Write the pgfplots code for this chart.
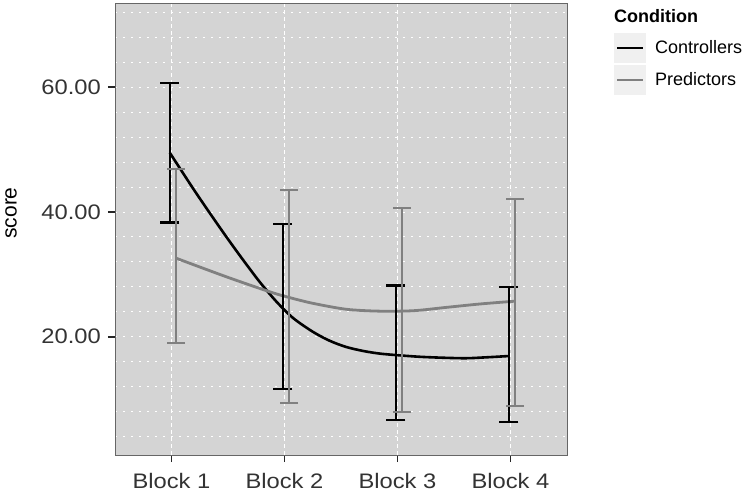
\documentclass[border=0pt]{standalone}
\usepackage{fontspec}
\setmainfont{Liberation Sans}
\newfontfamily\tickfont{Liberation Sans}[FakeStretch=1.13]
\usepackage{pgfplots}
\pgfplotsset{compat=1.18}
\usepackage{pgfplotstable}
\definecolor{panelbg}{HTML}{D4D4D4}
\definecolor{framegray}{HTML}{666666}
\definecolor{predgray}{HTML}{808080}
\definecolor{keybg}{HTML}{F0F0F0}
\definecolor{ticktext}{HTML}{333333}

\pgfplotstableread{
x y
0.985 49.5
1.19 43.8
1.34 39.8
1.49 35.9
1.63 32.4
1.78 28.8
1.93 25.6
2.076 23.0
2.25 20.8
2.40 19.35
2.547 18.35
2.70 17.7
2.84 17.3
2.985 17.06
3.23 16.75
3.58 16.55
3.79 16.7
3.985 16.9
}\ctrlcurve
\pgfplotstableread{
x y
1.04 32.6
1.487 29.6
1.87 27.2
2.04 26.3
2.25 25.36
2.547 24.4
2.84 24.1
3.14 24.17
3.43 24.7
3.73 25.25
4.04 25.7
}\predcurve
\pgfplotstableread{
x y ep em
0.985 49.5 11.2 11.2
1.985 25.0 13.1 13.4
2.985 17.06 11.14 10.46
3.985 16.9 11.1 10.6
}\ctrlerr
\pgfplotstableread{
x y ep em
1.04 32.6 14.3 13.6
2.04 26.3 17.3 16.9
3.04 24.15 16.45 16.25
4.04 25.7 16.4 16.8
}\prederr

\begin{document}
\begin{tikzpicture}
\useasboundingbox (0,0) rectangle (750bp,494bp);
\begin{axis}[
  at={(115bp,39bp)}, anchor=south west,
  scale only axis, width=452bp, height=451bp,
  xmin=0.5, xmax=4.5, ymin=1.03, ymax=73.36,
  axis background/.style={fill=panelbg},
  axis line style={draw=framegray, line width=1bp},
  xtick={1,2,3,4},
  xticklabels={Block 1,Block 2,Block 3,Block 4},
  ytick={20,40,60},
  yticklabels={20.00,40.00,60.00},
  minor ytick={4,8,...,72},
  xmajorgrids, ymajorgrids, yminorgrids,
  x grid style={white, line width=0.9bp, dash pattern=on 4bp off 3bp},
  y grid style={white, line width=0.9bp, dash pattern=on 1.5bp off 6.5bp},
  tick align=outside, tick pos=left,
  major tick length=7bp, minor tick length=0pt,
  major tick style={draw=black!85, line width=1.6bp},
  /pgf/number format/assume math mode=true,
  ticklabel style={font=\tickfont\fontsize{21bp}{25bp}\selectfont, text=ticktext},
  yticklabel style={inner sep=0pt, anchor=east, xshift=-7bp},
  xticklabel style={inner sep=0pt, anchor=north, yshift=-11bp},
  legend cell align=left,
  legend style={at={(1.104,0.9357)}, anchor=north west, draw=none, fill=none,
    inner sep=0pt, row sep=2bp, column sep=9bp,
    font=\fontsize{18bp}{21bp}\selectfont,
    nodes={inner sep=0pt, anchor=west}},
  legend image code/.code={
    \fill[fill=keybg, draw=none] (0bp,-15bp) rectangle (32bp,15bp);
    \draw[line width=1.6bp] (3bp,0bp) -- (29bp,0bp);
  },
  clip=false,
]
\addplot[black, line width=2.6bp, smooth] table[x=x,y=y] {\ctrlcurve};
\addlegendentry{Controllers}
\addplot[predgray, line width=2.8bp, smooth] table[x=x,y=y] {\predcurve};
\addlegendentry{Predictors}
\addplot[forget plot, draw=none, mark=none,
  error bars/.cd, y dir=both, y explicit, error mark=|,
  error bar style={draw=black, line width=1.4bp},
  error mark options={draw=black, line width=2.4bp, mark size=9.5bp}]
  table[x=x, y=y, y error plus=ep, y error minus=em] {\ctrlerr};
\addplot[forget plot, draw=none, mark=none,
  error bars/.cd, y dir=both, y explicit, error mark=|,
  error bar style={draw=predgray, line width=1.3bp},
  error mark options={draw=predgray, line width=2.0bp, mark size=9bp}]
  table[x=x, y=y, y error plus=ep, y error minus=em] {\prederr};
\end{axis}
\node[rotate=90, anchor=center, font=\fontsize{21bp}{25bp}\selectfont, text=black] at (11bp,281bp) {score};
\node[anchor=base west, font=\fontsize{18bp}{21bp}\selectfont\bfseries, inner sep=0pt] at (614bp,471bp) {Condition};
\end{tikzpicture}
\end{document}
